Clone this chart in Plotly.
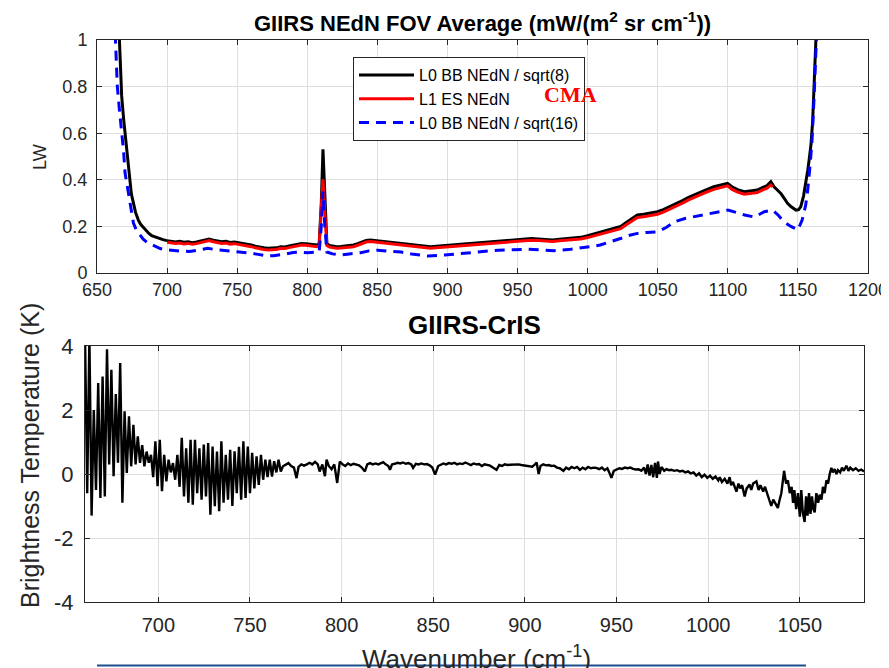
import plotly.graph_objects as go

# page offset of the plot div inside the browser window (default body margin)
OFF = 8
FW, FH = 889 - OFF, 668 - OFF

# ---------------- top panel data (LW NEdN) ----------------
black_wn = [
    664.0, 665.5, 666.5, 667.6, 669.0, 670.0, 671.5, 673.0, 674.5, 676.0,
    677.5, 679.5, 681.0, 682.5, 684.0, 685.5, 687.0, 689.0, 691.0, 693.0,
    695.0, 697.0, 700.0, 703.0, 706.0, 709.0, 712.0, 715.0, 718.0, 721.0,
    724.0, 727.0, 730.0, 733.0, 736.0, 739.0, 742.0, 745.0, 748.0, 751.0,
    754.0, 757.0, 760.0, 763.0, 766.0, 769.0, 772.0, 775.0, 778.0, 781.0,
    784.0, 787.0, 790.0, 793.0, 796.0, 799.0, 802.0, 805.0, 807.0, 808.5,
    810.0, 811.2, 812.5, 814.0, 816.0, 818.0, 821.0, 824.0, 827.0, 830.0,
    833.0, 836.0, 839.0, 842.0, 845.0, 848.0, 851.0, 854.0, 857.0, 860.0,
    864.0, 868.0, 872.0, 876.0, 880.0, 884.0, 888.0, 892.0, 896.0, 900.0,
    905.0, 910.0, 915.0, 920.0, 925.0, 930.0, 935.0, 940.0, 945.0, 950.0,
    955.0, 960.0, 965.0, 970.0, 975.0, 980.0, 985.0, 990.0, 995.0, 1000.0,
    1005.0, 1009.0, 1014.0, 1019.0, 1023.6, 1027.0, 1031.0, 1035.5, 1040.0, 1045.0,
    1049.8, 1054.0, 1058.0, 1064.0, 1068.0, 1072.0, 1078.0, 1084.0, 1090.0, 1095.0,
    1099.8, 1103.0, 1107.0, 1111.7, 1116.0, 1121.0, 1125.0, 1128.0, 1130.7, 1133.0,
    1135.5, 1138.0, 1140.5, 1142.6, 1145.0, 1148.6, 1150.5, 1152.0, 1154.0, 1155.7,
    1157.0, 1158.0, 1159.3, 1160.5, 1161.5, 1162.5, 1163.5,
]
black_nedn = [
    1.3, 1.05, 0.9, 0.76, 0.66, 0.6, 0.5, 0.4, 0.34, 0.3,
    0.26, 0.227, 0.21, 0.2, 0.19, 0.177, 0.17, 0.16, 0.155, 0.15,
    0.145, 0.143, 0.139, 0.135, 0.133, 0.136, 0.132, 0.134, 0.13, 0.133,
    0.137, 0.142, 0.146, 0.141, 0.137, 0.134, 0.136, 0.131, 0.133, 0.13,
    0.128, 0.124, 0.12, 0.115, 0.11, 0.108, 0.106, 0.107, 0.108, 0.113,
    0.112, 0.116, 0.12, 0.124, 0.127, 0.126, 0.124, 0.122, 0.12, 0.125,
    0.3, 0.531, 0.3, 0.125, 0.118, 0.116, 0.113, 0.114, 0.116, 0.118,
    0.12, 0.126, 0.133, 0.14, 0.142, 0.14, 0.138, 0.136, 0.134, 0.13,
    0.127, 0.124, 0.122, 0.12, 0.116, 0.114, 0.113, 0.115, 0.117, 0.12,
    0.122, 0.125, 0.127, 0.129, 0.131, 0.134, 0.137, 0.14, 0.143, 0.145,
    0.147, 0.148, 0.146, 0.144, 0.142, 0.145, 0.147, 0.15, 0.153, 0.16,
    0.168, 0.177, 0.185, 0.192, 0.2, 0.215, 0.232, 0.249, 0.252, 0.256,
    0.263, 0.272, 0.283, 0.299, 0.312, 0.325, 0.342, 0.356, 0.37, 0.378,
    0.385, 0.37, 0.358, 0.349, 0.352, 0.356, 0.368, 0.375, 0.392, 0.37,
    0.355, 0.34, 0.318, 0.299, 0.285, 0.27, 0.272, 0.284, 0.33, 0.385,
    0.44, 0.485, 0.55, 0.65, 0.8, 0.95, 1.1,
]

red_wn = [
    700.0, 703.0, 706.0, 709.0, 712.0, 715.0, 718.0, 721.0, 724.0, 727.0,
    730.0, 733.0, 736.0, 739.0, 742.0, 745.0, 748.0, 751.0, 754.0, 757.0,
    760.0, 763.0, 766.0, 769.0, 772.0, 775.0, 778.0, 781.0, 784.0, 787.0,
    790.0, 793.0, 796.0, 799.0, 802.0, 805.0, 807.0, 808.5, 810.0, 811.2,
    812.5, 814.0, 816.0, 818.0, 821.0, 824.0, 827.0, 830.0, 833.0, 836.0,
    839.0, 842.0, 845.0, 848.0, 851.0, 854.0, 857.0, 860.0, 864.0, 868.0,
    872.0, 876.0, 880.0, 884.0, 888.0, 892.0, 896.0, 900.0, 905.0, 910.0,
    915.0, 920.0, 925.0, 930.0, 935.0, 940.0, 945.0, 950.0, 955.0, 960.0,
    965.0, 970.0, 975.0, 980.0, 985.0, 990.0, 995.0, 1000.0, 1005.0, 1009.0,
    1014.0, 1019.0, 1023.6, 1027.0, 1031.0, 1035.5, 1040.0, 1045.0, 1049.8, 1054.0,
    1058.0, 1064.0, 1068.0, 1072.0, 1078.0, 1084.0, 1090.0, 1095.0, 1099.8, 1103.0,
    1107.0, 1111.7, 1116.0, 1121.0, 1125.0, 1128.0, 1130.7, 1132.0,
]
red_nedn = [
    0.132, 0.128, 0.127, 0.129, 0.125, 0.127, 0.123, 0.126, 0.13, 0.135,
    0.139, 0.134, 0.13, 0.127, 0.129, 0.124, 0.126, 0.123, 0.121, 0.117,
    0.113, 0.108, 0.103, 0.101, 0.099, 0.1, 0.101, 0.106, 0.105, 0.109,
    0.113, 0.117, 0.12, 0.119, 0.117, 0.115, 0.113, 0.118, 0.26, 0.402,
    0.26, 0.118, 0.111, 0.109, 0.106, 0.107, 0.109, 0.111, 0.113, 0.119,
    0.126, 0.133, 0.135, 0.133, 0.131, 0.129, 0.127, 0.123, 0.12, 0.117,
    0.115, 0.113, 0.109, 0.107, 0.106, 0.108, 0.11, 0.113, 0.115, 0.118,
    0.12, 0.122, 0.124, 0.127, 0.13, 0.133, 0.136, 0.138, 0.14, 0.141,
    0.139, 0.137, 0.135, 0.138, 0.14, 0.143, 0.146, 0.152, 0.16, 0.168,
    0.176, 0.183, 0.19, 0.205, 0.222, 0.238, 0.241, 0.245, 0.252, 0.261,
    0.272, 0.288, 0.301, 0.314, 0.331, 0.345, 0.359, 0.367, 0.374, 0.359,
    0.347, 0.338, 0.341, 0.345, 0.357, 0.364, 0.378, 0.37,
]

blue_wn = [
    662.5, 663.5, 664.5, 666.0, 667.6, 669.0, 670.0, 671.8, 673.6, 676.0,
    678.0, 680.7, 683.0, 686.0, 690.0, 695.0, 700.0, 705.0, 710.0, 716.0,
    722.0, 729.0, 735.0, 740.0, 745.0, 750.0, 755.0, 760.0, 765.0, 771.0,
    776.0, 781.0, 785.0, 790.0, 795.0, 800.0, 805.0, 808.5, 810.0, 811.2,
    812.5, 814.0, 818.0, 824.0, 830.0, 838.0, 844.0, 850.0, 858.0, 867.0,
    876.0, 886.0, 898.0, 906.0, 914.0, 925.0, 936.0, 947.0, 957.0, 966.0,
    976.0, 988.0, 995.0, 1002.0, 1009.0, 1016.0, 1024.0, 1030.0, 1035.5, 1042.0,
    1050.0, 1056.0, 1062.0, 1070.0, 1081.0, 1090.0, 1100.0, 1106.0, 1112.0, 1119.0,
    1126.0, 1132.0, 1136.0, 1140.0, 1145.0, 1150.0, 1153.0, 1155.5, 1157.0, 1158.5,
    1160.0, 1161.5, 1162.5, 1163.5,
]
blue_nedn = [
    1.1, 0.95, 0.8, 0.7, 0.614, 0.52, 0.43, 0.36, 0.3, 0.214,
    0.185, 0.163, 0.145, 0.13, 0.12, 0.105, 0.099, 0.095, 0.094, 0.092,
    0.097, 0.106, 0.1, 0.097, 0.096, 0.094, 0.09, 0.085, 0.08, 0.073,
    0.074, 0.077, 0.082, 0.088, 0.09, 0.087, 0.09, 0.09, 0.2, 0.35,
    0.2, 0.09, 0.082, 0.077, 0.082, 0.087, 0.095, 0.098, 0.094, 0.09,
    0.08, 0.073, 0.077, 0.082, 0.087, 0.093, 0.098, 0.1, 0.102, 0.099,
    0.096, 0.102, 0.106, 0.113, 0.12, 0.132, 0.149, 0.162, 0.17, 0.174,
    0.177, 0.195, 0.22, 0.235, 0.249, 0.26, 0.27, 0.26, 0.249, 0.24,
    0.263, 0.27, 0.248, 0.22, 0.2, 0.185, 0.227, 0.29, 0.356, 0.45,
    0.56, 0.75, 0.9, 1.05,
]

# ---------------- bottom panel data (GIIRS-CrIS BT difference) ----------------
diff_wn = [
    660.0, 661.2, 662.4, 663.6, 664.8, 666.0, 667.2, 668.4, 669.6, 670.8,
    672.0, 673.2, 674.4, 675.6, 676.8, 678.0, 679.2, 680.4, 681.6, 682.8,
    684.0, 685.2, 686.4, 687.6, 688.8, 690.0, 691.2, 692.4, 693.6, 694.8,
    696.0, 697.2, 698.4, 699.6, 700.8, 702.0, 703.2, 704.4, 705.6, 706.8,
    708.0, 709.2, 710.4, 711.6, 712.8, 714.0, 715.2, 716.4, 717.6, 718.8,
    720.0, 721.2, 722.4, 723.6, 724.8, 726.0, 727.2, 728.4, 729.6, 730.8,
    732.0, 733.2, 734.4, 735.6, 736.8, 738.0, 739.2, 740.4, 741.6, 742.8,
    744.0, 745.2, 746.4, 747.6, 748.8, 750.0, 751.2, 752.4, 753.6, 754.8,
    756.0, 757.2, 758.4, 759.6, 760.8, 762.0, 763.2, 764.4, 765.6, 766.8, 768.0,
    769.5, 771.0, 772.5, 774.0, 775.4, 776.5, 778.0, 779.5, 781.0, 782.5,
    784.0, 785.5, 787.0, 788.0, 789.5, 790.9, 791.8, 793.0, 794.5, 796.0,
    797.6, 799.0, 800.5, 802.0, 803.5, 805.0, 806.5, 808.0, 809.5, 811.0,
    812.7, 814.0, 815.5, 817.0, 818.5, 820.0, 821.5, 822.7, 824.0, 825.5,
    826.4, 827.5, 829.0, 830.5, 832.0, 833.5, 835.0, 836.5, 838.0, 839.0,
    840.5, 842.0, 843.5, 845.0, 846.5, 848.0, 849.5, 851.0, 852.7, 854.0,
    855.5, 857.0, 858.5, 860.0, 861.5, 863.0, 864.5, 866.0, 867.5, 869.0,
    870.5, 872.0, 873.5, 875.0, 876.5, 878.0, 879.5, 881.0, 882.5, 884.5,
    886.0, 887.5, 889.0, 890.5, 892.0, 893.5, 895.0, 896.5, 898.0, 899.5,
    901.0, 902.5, 904.0, 905.5, 906.4, 907.5, 908.5, 910.0, 911.5, 913.0,
    914.5, 916.0, 917.5, 919.0, 921.0, 922.5, 924.0, 925.5, 927.0, 928.5,
    930.0, 931.5, 933.0, 934.5, 936.0, 937.5, 939.0, 940.5, 942.0, 943.5,
    945.0, 946.0, 947.2, 948.5, 950.0, 951.5, 953.0, 954.5, 956.0, 957.5,
    959.0, 960.5, 962.0, 963.5, 965.0, 966.0, 967.0, 968.0, 969.0, 970.0,
    971.0, 972.0, 972.6, 973.5, 974.5, 976.0, 977.2, 978.5, 980.0, 981.5,
    983.0, 984.5, 986.0, 987.5, 989.0, 990.5, 992.0, 993.5, 995.0, 996.5,
    998.0, 999.5, 1001.0, 1002.5, 1004.0, 1005.5, 1006.3, 1007.5, 1009.0, 1010.5,
    1011.7, 1012.5, 1013.5, 1014.5, 1015.4, 1016.5, 1017.5, 1018.5, 1019.9, 1021.0,
    1022.6, 1023.5, 1024.5, 1026.3, 1027.5, 1028.5, 1030.0, 1031.0, 1032.0, 1033.0,
    1034.4, 1035.5, 1036.5, 1038.0, 1039.0, 1039.9, 1041.4, 1042.5, 1043.5, 1044.5,
    1045.5, 1046.3, 1047.0, 1048.0, 1049.0, 1050.0, 1050.8, 1051.6, 1052.6, 1053.4,
    1054.2, 1055.0, 1055.8, 1056.6, 1057.4, 1058.1, 1059.0, 1060.0, 1060.8, 1061.8,
    1062.6, 1063.5, 1064.5, 1065.4, 1066.3, 1067.2, 1068.0, 1069.0, 1070.0, 1070.8,
    1072.0, 1073.0, 1074.0, 1075.4, 1076.5, 1077.5, 1079.0, 1080.5, 1082.0, 1083.5, 1085.0,
]
diff_bt = [
    4.4, -0.6, 4.3, -1.3, 2.0, -0.5, 2.84, -0.75, 3.05, -0.7,
    3.9, 0.3, 3.26, -0.07, 2.5, 0.35, 3.47, -0.9, 1.96, 0.03,
    1.8, 0.24, 1.54, 0.3, 1.18, 0.35, 0.9, 0.24, 0.7, 0.35,
    0.6, -0.1, 1.02, -0.38, 1.07, -0.54, 0.6, -0.23, 0.45, 0.05,
    0.34, -0.18, 0.6, -0.4, 1.13, -0.7, 0.8, -0.9, 1.07, -0.96,
    1.07, -0.6, 0.8, -0.8, 0.92, -0.7, 0.97, -1.27, 0.86, -1.01,
    0.7, -1.16, 1.02, -0.9, 0.6, -0.8, 0.76, -1.0, 0.71, -0.6,
    0.85, -0.8, 1.02, -0.75, 0.86, -0.6, 0.66, -0.45, 0.55, -0.34,
    0.6, -0.18, 0.45, -0.1, 0.45, -0.08, 0.4, 0.05, 0.45, 0.08, 0.24,
    0.3, 0.34, 0.25, 0.2, -0.13, 0.22, 0.3, 0.26, 0.3, 0.35,
    0.3, 0.38, 0.3, 0.08, 0.3, -0.07, 0.45, 0.25, 0.15, 0.3,
    -0.28, 0.39, 0.3, 0.25, 0.33, 0.28, 0.32, 0.3, 0.27, 0.2,
    0.08, 0.3, 0.34, 0.3, 0.33, 0.3, 0.35, 0.37, 0.3, 0.25,
    0.13, 0.3, 0.32, 0.35, 0.33, 0.36, 0.32, 0.34, 0.3, 0.19,
    0.32, 0.3, 0.33, 0.3, 0.31, 0.27, 0.2, -0.02, 0.25, 0.3,
    0.33, 0.3, 0.34, 0.32, 0.35, 0.3, 0.33, 0.31, 0.36, 0.32,
    0.28, 0.33, 0.3, 0.31, 0.25, 0.3, 0.28, 0.26, 0.2, 0.13,
    0.28, 0.25, 0.3, 0.28, 0.29, 0.3, 0.29, 0.3, 0.28, 0.27,
    0.26, 0.25, 0.23, 0.3, 0.36, 0.0, 0.25, 0.3, 0.27, 0.28,
    0.25, 0.26, 0.2, 0.18, 0.1, 0.2, 0.15, 0.22, 0.18, 0.22,
    0.13, 0.2, 0.15, 0.22, 0.18, 0.2, 0.19, 0.15, 0.2, 0.12,
    0.18, 0.05, -0.12, 0.1, 0.13, 0.18, 0.16, 0.2, 0.18, 0.2,
    0.16, 0.14, 0.15, 0.1, 0.2, 0.0, 0.3, -0.05, 0.28, -0.1,
    0.35, -0.12, 0.39, 0.0, 0.22, 0.1, 0.15, 0.12, 0.13, 0.1,
    0.12, 0.08, 0.1, 0.05, 0.08, 0.02, 0.05, -0.05, 0.02, -0.1,
    -0.02, -0.12, -0.05, -0.15, -0.08, -0.2, -0.1, -0.25, -0.15, -0.3,
    -0.1, -0.35, -0.25, -0.4, -0.55, -0.3, -0.45, -0.35, -0.7, -0.45,
    -0.33, -0.5, -0.3, -0.23, -0.5, -0.35, -0.55, -0.4, -0.6, -0.75,
    -1.0, -0.8, -0.9, -1.06, -0.8, -0.6, 0.1, -0.3, -0.2, -0.6,
    -0.4, -0.9, -0.5, -1.1, -0.6, -1.33, -0.5, -1.2, -1.5, -0.7,
    -1.3, -0.6, -1.25, -0.7, -1.1, -1.2, -0.6, -0.9, -0.65, -0.8,
    -0.4, -0.6, -0.2, -0.3, 0.0, 0.19, 0.05, 0.15, 0.0, 0.12,
    0.05, 0.2, 0.1, 0.26, 0.1, 0.2, 0.12, 0.18, 0.1, 0.14, 0.08,
]

top_xticks = [650, 700, 750, 800, 850, 900, 950, 1000, 1050, 1100, 1150, 1200]
top_yticks = [0, 0.2, 0.4, 0.6, 0.8, 1]
top_ylabels = ["0", "0.2", "0.4", "0.6", "0.8", "1"]
bot_xticks = [700, 750, 800, 850, 900, 950, 1000, 1050]
bot_yticks = [-4, -2, 0, 2, 4]
bot_ylabels = ["-4", "-2", "0", "2", "4"]

SANS = "Liberation Sans, Arial, Helvetica, sans-serif"
AX = "#262626"
GRID = "#dedede"


def px_x(p):
    return (p - OFF) / FW


def px_y(p):
    return 1 - (p - OFF) / FH


fig = go.Figure()
fig.add_trace(go.Scatter(x=black_wn, y=black_nedn, mode="lines", name="L0 BB NEdN / sqrt(8)",
                         line=dict(color="black", width=3), xaxis="x", yaxis="y"))
fig.add_trace(go.Scatter(x=red_wn, y=red_nedn, mode="lines", name="L1 ES NEdN",
                         line=dict(color="#ff0000", width=3), xaxis="x", yaxis="y"))
fig.add_trace(go.Scatter(x=blue_wn, y=blue_nedn, mode="lines", name="L0 BB NEdN / sqrt(16)",
                         line=dict(color="#0000ff", width=3, dash="10px,7px"), xaxis="x", yaxis="y"))
fig.add_trace(go.Scatter(x=diff_wn, y=diff_bt, mode="lines", showlegend=False,
                         line=dict(color="black", width=2.4), xaxis="x2", yaxis="y2"))

common = dict(showline=True, linecolor=AX, linewidth=1, mirror="ticks", ticks="inside",
              ticklen=5, tickcolor=AX, showgrid=True, gridcolor=GRID, gridwidth=1,
              zeroline=False, automargin=False)


def ann(text, x, y, size, color=AX, angle=0, family=SANS):
    return dict(text=text, x=px_x(x), y=px_y(y), xref="paper", yref="paper",
                xanchor="center", yanchor="middle", showarrow=False, textangle=angle,
                font=dict(family=family, size=size, color=color))


fig.update_layout(
    width=FW, height=FH, template="none",
    paper_bgcolor="white", plot_bgcolor="white",
    margin=dict(l=0, r=0, t=0, b=0),
    xaxis=dict(domain=[px_x(97), px_x(868)], range=[650, 1200], tickvals=top_xticks,
               anchor="y", ticklabelstandoff=0,
               tickfont=dict(family=SANS, size=18, color=AX), **common),
    yaxis=dict(domain=[px_y(273), px_y(40)], range=[0, 1], tickvals=top_yticks,
               ticktext=top_ylabels, anchor="x", ticklabelstandoff=5,
               tickfont=dict(family=SANS, size=18, color=AX), **common),
    xaxis2=dict(domain=[px_x(85), px_x(864)], range=[660, 1085], tickvals=bot_xticks,
                anchor="y2", ticklabelstandoff=5,
                tickfont=dict(family=SANS, size=20, color=AX), **common),
    yaxis2=dict(domain=[px_y(602), px_y(346)], range=[-4, 4], tickvals=bot_yticks,
                ticktext=bot_ylabels, anchor="x2", ticklabelstandoff=6,
                tickfont=dict(family=SANS, size=22, color=AX), **common),
    showlegend=True,
    legend=dict(x=px_x(353), y=px_y(57), xanchor="left", yanchor="top",
                bgcolor="white", bordercolor=AX, borderwidth=1,
                font=dict(family=SANS, size=16, color="black"),
                itemwidth=55, tracegroupgap=0),
    annotations=[
        ann("<b>GIIRS NEdN FOV Average (mW/(m<sup>2</sup> sr cm<sup>-1</sup>))</b>",
            482, 22, 22, color="black"),
        ann("LW", 40, 157, 18, angle=-90),
        ann("<b>CMA</b>", 570, 94, 22, color="#ff0000",
            family="Liberation Serif, Times New Roman, serif"),
        ann("<b>GIIRS-CrIS</b>", 475, 325, 26, color="black"),
        ann("Brightness Temperature (K)", 30, 456, 25, angle=-90),
        ann("Wavenumber (cm<sup>-1</sup>)", 476, 657, 26),
    ],
    shapes=[dict(type="line", xref="paper", yref="paper", x0=px_x(97), x1=px_x(806),
                 y0=px_y(665.5), y1=px_y(665.5), line=dict(color="#1f4e8c", width=2))],
)

fig.write_html("out.html")
